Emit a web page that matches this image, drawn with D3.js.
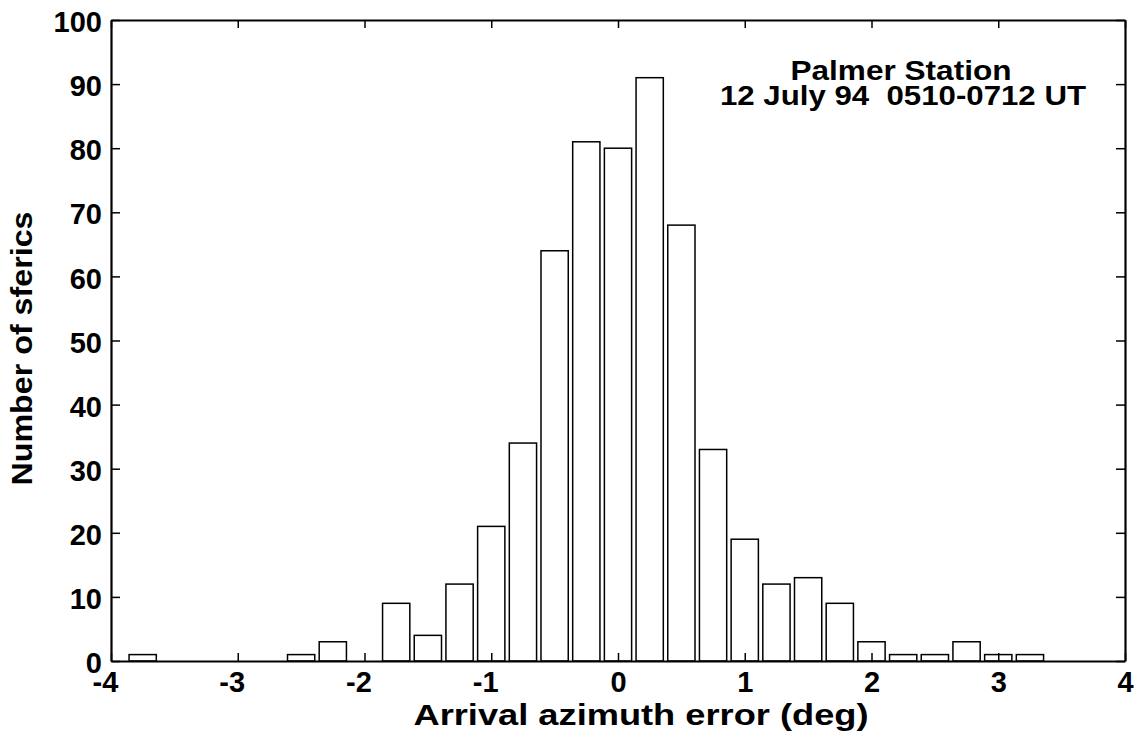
<!DOCTYPE html>
<html>
    <head>
      <meta charset="utf-8">
      <script src="https://d3js.org/d3.v7.min.js"></script>
      <style>
        body { margin: 0; background: #fff; }
        text { font-family: "Liberation Sans", Arial, Helvetica, sans-serif; font-weight: bold; fill: #000; }
      </style>
    </head>
    <body>
      <script>
      // bin centres (deg) and counts
      var binCenters = [-3.75, -2.5, -2.25, -1.75, -1.5, -1.25, -1.0, -0.75, -0.5, -0.25, 0, 0.25,
                        0.5, 0.75, 1.0, 1.25, 1.5, 1.75, 2.0, 2.25, 2.5, 2.75, 3.0, 3.25];
      var counts = [1, 1, 3, 9, 4, 12, 21, 34, 64, 81, 80, 91,
                    68, 33, 19, 12, 13, 9, 3, 1, 1, 3, 1, 1];
      var xTicks = [-4, -3, -2, -1, 0, 1, 2, 3, 4];
      var yTicks = [0, 10, 20, 30, 40, 50, 60, 70, 80, 90, 100];
      var titleLines = ["Palmer Station", "12 July 94  0510-0712 UT"];

      var data = binCenters.map((c, i) => ({center: c, count: counts[i]}));

      // set the dimensions and margins of the graph
      var margin = {top: 20, right: 12, bottom: 71, left: 111},
          width = 1137 - margin.left - margin.right,
          height = 732 - margin.top - margin.bottom;

      var x = d3.scaleLinear().domain([-4, 4]).range([0, width]);
      var y = d3.scaleLinear().domain([0, 100]).range([height, 0]);
      var barWidth = 0.215;

      var svg = d3.select("body").append("svg")
          .attr("width", width + margin.left + margin.right)
          .attr("height", height + margin.top + margin.bottom)
        .append("g")
          .attr("transform", "translate(" + margin.left + "," + margin.top + ")");

      // bars
      svg.selectAll("rect.bar")
          .data(data)
        .enter().append("rect")
          .attr("class", "bar")
          .attr("x", d => x(d.center - barWidth / 2))
          .attr("width", d => x(d.center + barWidth / 2) - x(d.center - barWidth / 2))
          .attr("y", d => y(d.count))
          .attr("height", d => y(0) - y(d.count))
          .attr("fill", "#fff")
          .attr("stroke", "#000")
          .style("stroke-width", 1.5);

      // plain hyphen for negatives, like the original
      var fmt = d => String(d);

      // axes, ticks point inward
      var bottomAxis = svg.append("g")
          .attr("transform", "translate(0," + height + ")")
          .call(d3.axisBottom(x).tickValues(xTicks).tickSizeInner(-8).tickSizeOuter(0).tickPadding(10).tickFormat(fmt));
      var leftAxis = svg.append("g")
          .call(d3.axisLeft(y).tickValues(yTicks).tickSizeInner(-9).tickSizeOuter(0).tickPadding(9).tickFormat(fmt));
      var topAxis = svg.append("g")
          .call(d3.axisTop(x).tickValues(xTicks).tickSizeInner(-8).tickSizeOuter(0).tickFormat(""));
      var rightAxis = svg.append("g")
          .attr("transform", "translate(" + width + ",0)")
          .call(d3.axisRight(y).tickValues(yTicks).tickSizeInner(-9).tickSizeOuter(0).tickFormat(""));

      [bottomAxis, leftAxis, topAxis, rightAxis].forEach(function(a) {
        a.select(".domain").attr("stroke", "#000").style("stroke-width", 2.2);
        a.selectAll(".tick line").attr("stroke", "#000").style("stroke-width", 1.5);
        a.selectAll(".tick text")
          .attr("fill", "#000")
          .style("font-family", '"Liberation Sans", Arial, sans-serif')
          .style("font-weight", "bold")
          .style("font-size", "29px");
      });
      // hang the minus sign to the left like the original
      bottomAxis.selectAll(".tick text").attr("dx", d => d < 0 ? -6 : 0);
      leftAxis.selectAll(".tick text").attr("dy", "0.40em");

      // axis titles
      svg.append("text")
          .attr("text-anchor", "middle")
          .attr("x", 530)
          .attr("y", height + 64)
          .attr("textLength", 455)
          .attr("lengthAdjust", "spacingAndGlyphs")
          .style("font-size", "30px")
          .text("Arrival azimuth error (deg)");
      svg.append("text")
          .attr("text-anchor", "middle")
          .attr("transform", "translate(" + (-79) + "," + (height / 2 + 8) + ") rotate(-90)")
          .attr("textLength", 274)
          .attr("lengthAdjust", "spacingAndGlyphs")
          .style("font-size", "30px")
          .text("Number of sferics");

      // annotation
      svg.selectAll("text.note")
          .data(titleLines)
        .enter().append("text")
          .attr("class", "note")
          .attr("text-anchor", "middle")
          .attr("x", (d, i) => i === 0 ? 790 : 792)
          .attr("y", (d, i) => 60 + i * 25)
          .attr("textLength", (d, i) => i === 0 ? 221 : 366)
          .attr("lengthAdjust", "spacingAndGlyphs")
          .style("font-size", "28px")
          .style("white-space", "pre")
          .text(d => d);
        </script>
    </body>
</html>
